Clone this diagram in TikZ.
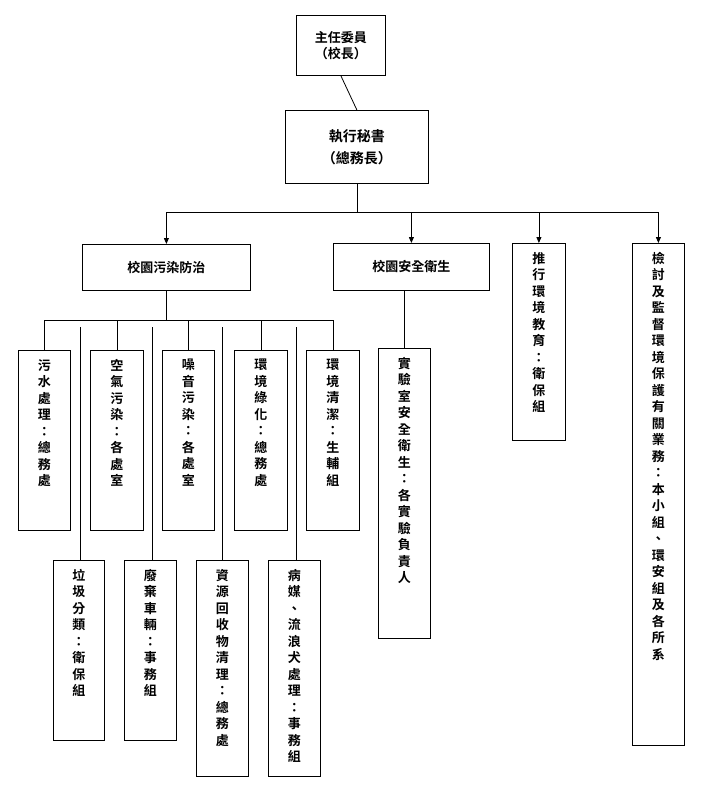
\documentclass[tikz,border=0pt]{standalone}
\usepackage{fontspec}
\setmainfont{Noto Sans CJK TC}[BoldFont={* Bold}]
\usetikzlibrary{arrows.meta}
\begin{document}
\begin{tikzpicture}[x=1pt,y=-1pt,
  box/.style={draw,line width=0.8pt,inner sep=0pt,anchor=north west},
  txt/.style={font=\fontsize{13}{16.5}\selectfont\bfseries,align=center,anchor=north,inner sep=0pt},
  ln/.style={line width=0.8pt},
  arr/.style={ln,-{Triangle[length=6pt,width=5pt]}}]
\useasboundingbox (0,0) rectangle (710,805);
\newcommand{\bx}[5]{\node[box,minimum width=#3pt,minimum height=#4pt] (#5) at (#1,#2) {};}
% top
\bx{296}{15}{89}{60}{top}
\node[txt,anchor=center] at (top.center) {主任委員\\（校長）};
\bx{285}{110}{143}{73}{exe}
\node[txt,anchor=center,font=\fontsize{14}{22}\selectfont\bfseries] at (exe.center) {執行秘書\\（總務長）};
\draw[ln] (top.south) -- (exe.north);
% level 2
\bx{82}{244}{168}{46}{pol}
\node[txt,anchor=center] at (pol.center) {校園污染防治};
\bx{333}{243}{156}{47}{saf}
\node[txt,anchor=center] at (saf.center) {校園安全衛生};
\bx{512}{243}{53}{197}{edu}
\node[txt] at ([yshift=-9pt]edu.north) {推\\行\\環\\境\\教\\育\\：\\衛\\保\\組};
\bx{632}{243}{52}{502}{rev}
\node[txt] at ([yshift=-9pt]rev.north) {檢\\討\\及\\監\\督\\環\\境\\保\\護\\有\\關\\業\\務\\：\\本\\小\\組\\、\\環\\安\\組\\及\\各\\所\\系};
\coordinate (b1) at (357,212);
\draw[ln] (exe.south -| b1) -- (b1);
\draw[ln] (pol.north |- b1) -- (rev.north |- b1);
\draw[arr] (pol.north |- b1) -- (pol.north);
\draw[arr] (saf.north |- b1) -- (saf.north);
\draw[arr] (edu.north |- b1) -- (edu.north);
\draw[arr] (rev.north |- b1) -- (rev.north);
% lab
\bx{378}{348}{52}{290}{lab}
\node[txt] at ([yshift=-9pt]lab.north) {實\\驗\\室\\安\\全\\衛\\生\\：\\各\\實\\驗\\負\\責\\人};
\draw[ln] (saf.south -| lab.north) -- (lab.north);
% upper row
\bx{18}{350}{52}{180}{u1}
\bx{90}{350}{53}{180}{u2}
\bx{162}{350}{52}{180}{u3}
\bx{234}{350}{53}{180}{u4}
\bx{306}{350}{53}{180}{u5}
\node[txt] at ([yshift=-9pt]u1.north) {污\\水\\處\\理\\：\\總\\務\\處};
\node[txt] at ([yshift=-9pt]u2.north) {空\\氣\\污\\染\\：\\各\\處\\室};
\node[txt] at ([yshift=-9pt]u3.north) {噪\\音\\污\\染\\：\\各\\處\\室};
\node[txt] at ([yshift=-9pt]u4.north) {環\\境\\綠\\化\\：\\總\\務\\處};
\node[txt] at ([yshift=-9pt]u5.north) {環\\境\\清\\潔\\：\\生\\輔\\組};
\coordinate (b2) at (0,320);
\draw[ln] (pol.south) -- (pol.south |- b2);
\draw[ln] (u1.north |- b2) -- (u5.north |- b2);
\foreach \u in {u1,u2,u3,u4,u5} \draw[ln] (\u.north |- b2) -- (\u.north);
% lower row
\bx{53}{560}{51}{180}{l1}
\bx{124}{560}{52}{180}{l2}
\bx{196}{560}{52}{216}{l3}
\bx{268}{560}{52}{216}{l4}
\node[txt] at ([yshift=-9pt]l1.north) {垃\\圾\\分\\類\\：\\衛\\保\\組};
\node[txt] at ([yshift=-9pt]l2.north) {廢\\棄\\車\\輛\\：\\事\\務\\組};
\node[txt] at ([yshift=-9pt]l3.north) {資\\源\\回\\收\\物\\清\\理\\：\\總\\務\\處};
\node[txt] at ([yshift=-9pt]l4.north) {病\\媒\\、\\流\\浪\\犬\\處\\理\\：\\事\\務\\組};
\coordinate (b3) at (0,327);
\foreach \l/\x in {l1/80,l2/152,l3/222,l4/296} {
  \coordinate (t\l) at (\x,327);
  \draw[ln] (t\l) -- (t\l |- \l.north);
}
\end{tikzpicture}
\end{document}
